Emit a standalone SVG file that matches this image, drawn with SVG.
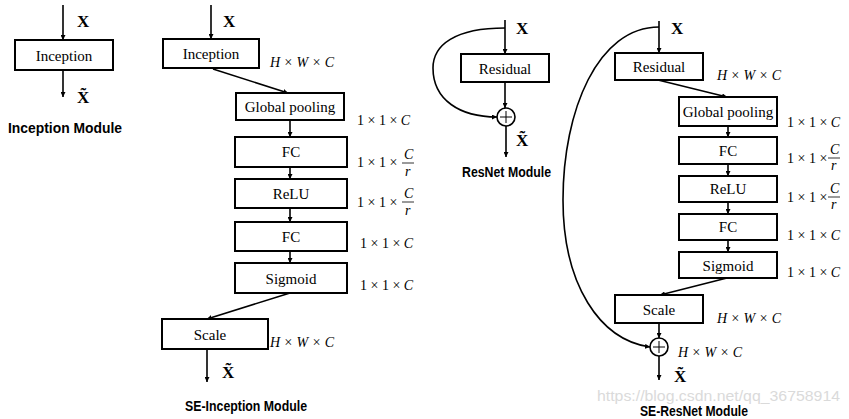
<svg xmlns="http://www.w3.org/2000/svg" width="849" height="419" viewBox="0 0 849 419">
<defs>
<marker id="ah" viewBox="0 0 10 10" refX="10" refY="5" markerWidth="5" markerHeight="5" orient="auto" markerUnits="userSpaceOnUse">
<path d="M0,0 L10,5 L0,10 z" fill="#000"/>
</marker>
</defs>
<style>
.box{fill:#fff;stroke:#000;stroke-width:2}
.lbl{font-family:"Liberation Serif",serif;font-size:15px;text-anchor:middle;fill:#000}
.x{font-family:"Liberation Serif",serif;font-size:17px;font-weight:bold;fill:#000}
.m{font-family:"Liberation Serif",serif;font-size:14px;fill:#000}
.i{font-style:italic}
.title{font-family:"Liberation Sans",sans-serif;font-size:14px;font-weight:bold;fill:#000}
.arr{fill:none;stroke:#000;stroke-width:1.6;marker-end:url(#ah)}
.frac{stroke:#000;stroke-width:0.8}
.wm{font-family:"Liberation Sans",sans-serif;font-size:14px;fill:#dadada}
</style>
<rect width="849" height="419" fill="#fff"/>

<g id="connectors">
<line class="arr" x1="63" y1="5" x2="63" y2="40"/>
<line class="arr" x1="63" y1="70" x2="63" y2="97"/>
<line class="arr" x1="211" y1="5" x2="211" y2="39"/>
<line class="arr" x1="213" y1="69" x2="288" y2="93"/>
<line class="arr" x1="290" y1="120" x2="290" y2="137"/>
<line class="arr" x1="290" y1="167" x2="290" y2="179"/>
<line class="arr" x1="290" y1="208" x2="290" y2="222"/>
<line class="arr" x1="290" y1="251" x2="290" y2="263"/>
<line class="arr" x1="290" y1="293" x2="207" y2="319"/>
<line class="arr" x1="207" y1="349" x2="207" y2="382"/>
<line class="arr" x1="505" y1="20" x2="505" y2="54"/>
<line class="arr" x1="505" y1="82" x2="505" y2="108"/>
<path class="arr" d="M505,28 C455,28 433,45 433,68 C433,100 460,117 497,117"/>
<line class="arr" x1="506" y1="126" x2="506" y2="157"/>
<line class="arr" x1="659" y1="21" x2="659" y2="53"/>
<line class="arr" x1="658" y1="80" x2="727" y2="97"/>
<line class="arr" x1="728" y1="126" x2="728" y2="137"/>
<line class="arr" x1="728" y1="164" x2="728" y2="176"/>
<line class="arr" x1="728" y1="202" x2="728" y2="214"/>
<line class="arr" x1="728" y1="240" x2="728" y2="252"/>
<line class="arr" x1="727" y1="278" x2="660" y2="295"/>
<line class="arr" x1="659" y1="323" x2="659" y2="338"/>
<path class="arr" d="M659,27 C598,27 563,110 563,200 C563,285 600,340 650,347"/>
<line class="arr" x1="659" y1="356" x2="659" y2="380"/>
</g>

<g id="inc">
<rect class="box" x="15" y="40" width="98" height="30"/>
<text class="lbl" x="64" y="61">Inception</text>
</g>
<g id="inc-labels">
<text class="x" x="77" y="27">X</text>
<text class="x" x="77" y="103">X&#x303;</text>
<text class="title" x="8" y="133" textLength="114" lengthAdjust="spacingAndGlyphs">Inception Module</text>
</g>

<g id="se-inc">
<rect class="box" x="163" y="39" width="96" height="29"/>
<text class="lbl" x="211" y="59">Inception</text>
</g>
<g id="se-gp">
<rect class="box" x="236" y="93" width="108" height="27"/>
<text class="lbl" x="290" y="112">Global pooling</text>
</g>
<g id="se-fc1">
<rect class="box" x="235" y="137" width="112" height="30"/>
<text class="lbl" x="291" y="157">FC</text>
</g>
<g id="se-relu">
<rect class="box" x="235" y="179" width="112" height="29"/>
<text class="lbl" x="291" y="199">ReLU</text>
</g>
<g id="se-fc2">
<rect class="box" x="235" y="222" width="112" height="29"/>
<text class="lbl" x="291" y="242">FC</text>
</g>
<g id="se-sig">
<rect class="box" x="235" y="263" width="112" height="30"/>
<text class="lbl" x="291" y="284">Sigmoid</text>
</g>
<g id="se-scale">
<rect class="box" x="162" y="319" width="106" height="30"/>
<text class="lbl" x="210" y="340">Scale</text>
</g>
<g id="se-inc-labels">
<text class="x" x="223" y="27">X</text>
<text class="m i" x="270" y="67">H × W × C</text>
<text class="m" x="357" y="125">1 × 1 × <tspan class="i">C</tspan></text>
<text class="m" x="357" y="167">1 × 1 ×</text>
<text class="m i" x="404" y="159">C</text>
<line class="frac" x1="402" y1="163" x2="414" y2="163"/>
<text class="m i" x="405" y="176">r</text>
<text class="m" x="357" y="207">1 × 1 ×</text>
<text class="m i" x="404" y="198">C</text>
<line class="frac" x1="402" y1="202" x2="414" y2="202"/>
<text class="m i" x="405" y="215">r</text>
<text class="m" x="360" y="248">1 × 1 × <tspan class="i">C</tspan></text>
<text class="m" x="360" y="290">1 × 1 × <tspan class="i">C</tspan></text>
<text class="m i" x="270" y="347">H × W × C</text>
<text class="x" x="222" y="378">X&#x303;</text>
<text class="title" x="185" y="411" textLength="122" lengthAdjust="spacingAndGlyphs">SE-Inception Module</text>
</g>

<g id="res">
<rect class="box" x="461" y="54" width="88" height="28"/>
<text class="lbl" x="505" y="74">Residual</text>
</g>
<g id="res-add">
<circle cx="506" cy="117" r="9" fill="#fff" stroke="#000" stroke-width="1.6"/>
<path d="M500,117 H512 M506,111 V123" stroke="#000" stroke-width="1"/>
</g>
<g id="res-labels">
<text class="x" x="516" y="34">X</text>
<text class="x" x="516" y="146">X&#x303;</text>
<text class="title" x="462" y="177" textLength="89" lengthAdjust="spacingAndGlyphs">ResNet Module</text>
</g>

<g id="ser-res">
<rect class="box" x="615" y="53" width="88" height="27"/>
<text class="lbl" x="659" y="72">Residual</text>
</g>
<g id="ser-gp">
<rect class="box" x="679" y="97" width="98" height="29"/>
<text class="lbl" x="728" y="117">Global pooling</text>
</g>
<g id="ser-fc1">
<rect class="box" x="679" y="137" width="98" height="27"/>
<text class="lbl" x="728" y="156">FC</text>
</g>
<g id="ser-relu">
<rect class="box" x="679" y="176" width="98" height="26"/>
<text class="lbl" x="728" y="194">ReLU</text>
</g>
<g id="ser-fc2">
<rect class="box" x="679" y="214" width="98" height="26"/>
<text class="lbl" x="728" y="232">FC</text>
</g>
<g id="ser-sig">
<rect class="box" x="679" y="252" width="98" height="26"/>
<text class="lbl" x="728" y="271">Sigmoid</text>
</g>
<g id="ser-scale">
<rect class="box" x="615" y="295" width="88" height="28"/>
<text class="lbl" x="659" y="315">Scale</text>
</g>
<g id="ser-add">
<circle cx="659" cy="347" r="9" fill="#fff" stroke="#000" stroke-width="1.6"/>
<path d="M653,347 H665 M659,341 V353" stroke="#000" stroke-width="1"/>
</g>
<g id="ser-labels">
<text class="x" x="671" y="34">X</text>
<text class="m i" x="717" y="80">H × W × C</text>
<text class="m" x="787" y="127">1 × 1 × <tspan class="i">C</tspan></text>
<text class="m" x="787" y="163">1 × 1 ×</text>
<text class="m i" x="830" y="154">C</text>
<line class="frac" x1="828" y1="158" x2="840" y2="158"/>
<text class="m i" x="831" y="170">r</text>
<text class="m" x="787" y="202">1 × 1 ×</text>
<text class="m i" x="830" y="193">C</text>
<line class="frac" x1="828" y1="197" x2="840" y2="197"/>
<text class="m i" x="831" y="209">r</text>
<text class="m" x="787" y="240">1 × 1 × <tspan class="i">C</tspan></text>
<text class="m" x="787" y="277">1 × 1 × <tspan class="i">C</tspan></text>
<text class="m i" x="717" y="323">H × W × C</text>
<text class="m i" x="678" y="357">H × W × C</text>
<text class="x" x="674" y="382">X&#x303;</text>
<text class="wm" x="597" y="401" textLength="243" lengthAdjust="spacingAndGlyphs">https://blog.csdn.net/qq_36758914</text>
<text class="title" x="640" y="416" textLength="108" lengthAdjust="spacingAndGlyphs">SE-ResNet Module</text>
</g>
</svg>
